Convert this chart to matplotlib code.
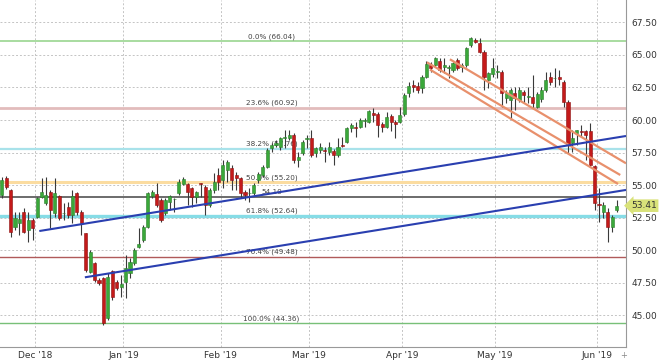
# %%
import numpy as np
import matplotlib
matplotlib.use('Agg')
import matplotlib.pyplot as plt

# %% candle data, one entry per trading day
opens = [54.23, 55.51, 54.62, 51.79, 52.10, 52.95, 51.54, 52.31, 52.56, 54.10,
         53.59, 54.49, 52.82, 54.15, 52.82, 53.33, 52.69, 54.36, 52.95, 51.28,
         48.33, 49.03, 47.69, 47.82, 44.74, 48.41, 47.56, 47.18, 47.56, 48.20,
         48.97, 50.20, 50.77, 51.80, 54.15, 54.30, 53.85, 52.82, 53.72, 53.90,
         54.36, 55.10, 55.05, 54.74, 54.10, 55.13, 54.87, 53.46, 54.60, 55.77,
         55.38, 56.15, 56.28, 55.77, 55.51, 54.49, 54.36, 54.36, 55.38, 55.77,
         56.40, 57.82, 58.08, 57.95, 58.59, 58.59, 58.85, 56.92, 57.44, 58.54,
         58.59, 57.44, 57.70, 57.69, 57.56, 57.60, 57.30, 58.10, 58.28, 59.36,
         59.49, 59.49, 59.90, 59.87, 60.50, 60.44, 59.67, 59.49, 60.33, 59.87,
         59.87, 60.44, 62.05, 62.69, 62.60, 62.44, 63.33, 64.23, 64.23, 64.54,
         64.10, 64.03, 63.85, 64.62, 64.10, 64.23, 65.77, 66.15, 65.90, 65.26,
         63.08, 63.51, 63.72, 63.72, 61.67, 61.54, 62.05, 61.54, 62.18, 61.79,
         61.79, 61.03, 61.60, 62.31, 63.33, 63.20, 63.33, 62.95, 61.41, 58.20,
         59.03, 59.15, 59.15, 59.15, 56.46, 53.50, 52.95, 52.95, 51.79, 53.08]
highs = [55.60, 55.70, 54.70, 52.95, 52.95, 53.20, 52.95, 52.44, 54.10, 55.51,
         55.64, 54.62, 55.51, 54.23, 53.59, 53.72, 54.62, 54.49, 53.08, 51.28,
         50.00, 49.10, 47.82, 47.95, 48.20, 48.46, 47.69, 48.08, 49.60, 49.36,
         50.13, 51.67, 51.92, 54.49, 54.62, 55.13, 53.97, 53.97, 54.23, 53.97,
         55.44, 55.60, 55.13, 54.87, 54.56, 55.18, 55.00, 54.74, 55.90, 56.28,
         56.92, 56.92, 56.54, 56.03, 55.64, 54.62, 54.74, 55.13, 56.03, 56.54,
         57.82, 58.20, 58.46, 58.72, 59.23, 59.23, 58.97, 57.56, 58.46, 58.85,
         59.23, 57.95, 58.20, 57.95, 58.33, 57.80, 58.59, 58.72, 59.49, 59.74,
         59.87, 60.13, 60.13, 60.77, 60.90, 60.60, 59.87, 60.64, 60.44, 60.00,
         61.03, 62.05, 62.95, 63.08, 62.95, 63.46, 64.50, 64.49, 64.87, 64.74,
         64.74, 64.23, 64.49, 64.74, 64.36, 65.64, 66.41, 66.28, 66.28, 65.38,
         63.72, 64.74, 64.23, 63.85, 62.31, 62.44, 62.56, 62.56, 62.31, 62.56,
         63.46, 62.18, 62.56, 63.72, 63.72, 63.97, 63.85, 63.08, 61.54, 59.23,
         59.23, 59.62, 59.23, 59.74, 56.54, 54.74, 53.72, 53.20, 52.69, 53.85]
lows = [54.00, 54.70, 51.03, 51.54, 51.15, 51.28, 50.64, 50.77, 52.44, 53.97,
        53.46, 51.67, 52.56, 52.31, 52.31, 52.44, 52.05, 52.69, 51.15, 48.33,
        48.20, 47.56, 47.31, 44.23, 44.62, 46.15, 46.92, 46.41, 46.30, 47.82,
        48.85, 50.13, 50.64, 51.67, 54.00, 53.33, 52.18, 52.69, 53.08, 52.95,
        54.23, 55.00, 53.46, 53.33, 53.59, 54.10, 52.69, 53.33, 54.36, 54.62,
        54.74, 55.26, 54.62, 54.62, 53.97, 53.85, 53.72, 54.23, 55.13, 55.64,
        56.28, 57.56, 57.95, 57.69, 57.82, 58.46, 56.67, 56.41, 57.31, 57.82,
        57.18, 57.18, 57.44, 56.80, 57.30, 56.54, 57.18, 57.95, 58.20, 59.10,
        58.72, 59.36, 59.49, 59.74, 59.87, 58.72, 59.10, 59.36, 59.15, 58.59,
        59.74, 60.33, 61.79, 62.18, 62.05, 62.05, 63.20, 63.72, 64.10, 63.72,
        63.59, 63.20, 63.72, 63.85, 63.72, 64.10, 65.64, 65.90, 65.13, 62.31,
        62.44, 63.33, 63.20, 61.03, 61.28, 60.13, 60.77, 61.41, 61.28, 61.28,
        60.90, 60.90, 61.41, 62.18, 62.69, 62.56, 62.69, 61.03, 57.44, 57.56,
        58.08, 58.72, 56.92, 56.41, 53.08, 52.18, 52.44, 50.64, 51.41, 52.95]
closes = [55.38, 54.87, 51.41, 52.44, 52.36, 51.41, 52.31, 51.67, 53.97, 54.49,
          54.23, 53.08, 54.36, 52.44, 52.82, 52.69, 54.15, 52.95, 52.05, 48.46,
          49.87, 47.69, 47.44, 44.36, 47.95, 46.41, 47.05, 47.38, 48.59, 49.10,
          50.00, 50.46, 51.80, 54.36, 54.49, 53.46, 52.31, 53.85, 54.15, 53.95,
          55.26, 55.44, 54.49, 54.10, 54.49, 55.05, 53.46, 54.62, 55.26, 55.26,
          56.54, 56.80, 55.38, 55.51, 54.36, 54.23, 54.36, 55.00, 55.82, 56.40,
          57.69, 58.08, 58.20, 58.59, 58.72, 58.85, 56.92, 57.18, 58.33, 58.54,
          57.31, 57.82, 57.90, 57.60, 57.95, 57.30, 57.95, 58.00, 59.36, 59.62,
          59.36, 60.00, 60.00, 60.69, 60.40, 59.62, 59.49, 60.26, 59.82, 59.67,
          60.38, 61.92, 62.64, 62.51, 62.30, 63.33, 64.28, 63.97, 64.74, 63.85,
          64.23, 64.03, 64.36, 63.97, 64.23, 65.51, 66.28, 66.03, 65.26, 63.33,
          63.59, 63.97, 63.72, 62.05, 62.05, 62.31, 61.67, 62.31, 61.92, 61.82,
          61.28, 61.97, 62.31, 63.08, 62.95, 63.20, 63.15, 61.41, 58.08, 58.64,
          59.23, 59.10, 58.85, 56.54, 53.59, 53.46, 53.46, 51.79, 52.56, 53.41]

month_pos = [7.5, 27.5, 49.5, 69.5, 90.5, 111.5, 134.5]
month_labels = ["Dec '18", "Jan '19", "Feb '19", "Mar '19", "Apr '19", "May '19", "Jun '19"]

fib_levels = [66.04, 60.92, 57.76, 55.20, 52.64, 49.48, 44.36]
fib_names = ["0.0%", "23.6%", "38.2%", "50.0%", "61.8%", "76.4%", "100.0%"]
fib_colors = ['#a8dca0', '#e2bcbc', '#a8e2ea', '#fbdca0', '#86dce6', '#b05a5a', '#78c078']
fib_widths = [1.4, 2.0, 1.6, 2.2, 2.4, 1.0, 1.0]
level_5410 = 54.10
last_price = 53.41

# trend lines: (start index, start value, end index, end value)
blue_lines = [(8.5, 51.46, 141.1, 58.77), (18.8, 47.90, 141.1, 54.62)]
orange_lines = [(101.3, 64.67, 141.1, 56.67), (96.1, 64.44, 139.8, 55.77), (96.8, 63.88, 139.3, 55.08)]

# %%
fig = plt.figure(figsize=(6.6, 3.64), dpi=100)
ax = fig.add_axes([0.0, 17 / 364, 626 / 660, 347 / 364])

idx = np.arange(len(closes))
o = np.array(opens)
c = np.array(closes)
h = np.array(highs)
l = np.array(lows)
up = c >= o

ax.set_xlim(-0.38, 141.1)
ax.set_ylim(42.54, 69.23)

yt = np.arange(45.0, 67.6, 2.5)
ax.set_yticks(yt)
ax.set_yticklabels(['%.2f' % v for v in yt])
ax.set_xticks(month_pos)
ax.set_xticklabels(month_labels)
ax.yaxis.tick_right()
ax.tick_params(axis='both', length=0, labelsize=6.5, colors='#333333', pad=3)
ax.tick_params(axis='y', pad=4)
ax.grid(True, color='#c4c4c4', linestyle=(0, (2, 2)), linewidth=0.7)
ax.set_axisbelow(True)
for s in ['left', 'top']:
    ax.spines[s].set_visible(False)
for s in ['right', 'bottom']:
    ax.spines[s].set_color('#999999')
    ax.spines[s].set_linewidth(0.8)

# horizontal levels
for lev, name, col, lw in zip(fib_levels, fib_names, fib_colors, fib_widths):
    ax.axhline(lev, color=col, linewidth=lw, zorder=1)
    ax.annotate('%s (%.2f)' % (name, lev), xy=(61, lev), xytext=(0, 3.6),
                textcoords='offset points', ha='center', va='center',
                fontsize=5.2, color='#444444', zorder=2)
ax.axhline(level_5410, color='#444444', linewidth=1.1, zorder=1)
ax.annotate('%.2f' % level_5410, xy=(61, level_5410), xytext=(0, 3.4),
            textcoords='offset points', ha='center', va='center',
            fontsize=5.2, color='#444444', zorder=2)

# candles
ax.vlines(idx, l, h, color='#3a3a3a', linewidth=0.8, zorder=3)
body_h = np.maximum(np.abs(c - o), 0.06)
body_b = np.minimum(o, c)
ax.bar(idx[up], body_h[up], bottom=body_b[up], width=0.7, color='#3aa83a',
       edgecolor='#2b7d2b', linewidth=0.4, zorder=4)
ax.bar(idx[~up], body_h[~up], bottom=body_b[~up], width=0.7, color='#c41a1a',
       edgecolor='#8c1010', linewidth=0.4, zorder=4)

# trend lines
for x0, y0, x1, y1 in orange_lines:
    ax.plot([x0, x1], [y0, y1], color='#e8906c', linewidth=1.6, zorder=5,
            solid_capstyle='butt')
for x0, y0, x1, y1 in blue_lines:
    ax.plot([x0, x1], [y0, y1], color='#2a3fb0', linewidth=1.5, zorder=5,
            solid_capstyle='butt')

# last price tag
ax.annotate('%.2f' % last_price, xy=(1.0, last_price), xycoords=('axes fraction', 'data'),
            xytext=(3.5, 0), textcoords='offset points', ha='left', va='center',
            fontsize=6.5, color='#333333', annotation_clip=False,
            bbox=dict(boxstyle='larrow,pad=0.2', facecolor='#d9e27a', edgecolor='none'))

fig.text(624 / 660, 1 - 356 / 364, '+', ha='center', va='center', fontsize=6, color='#888888')

plt.savefig('out.png', dpi=100)
